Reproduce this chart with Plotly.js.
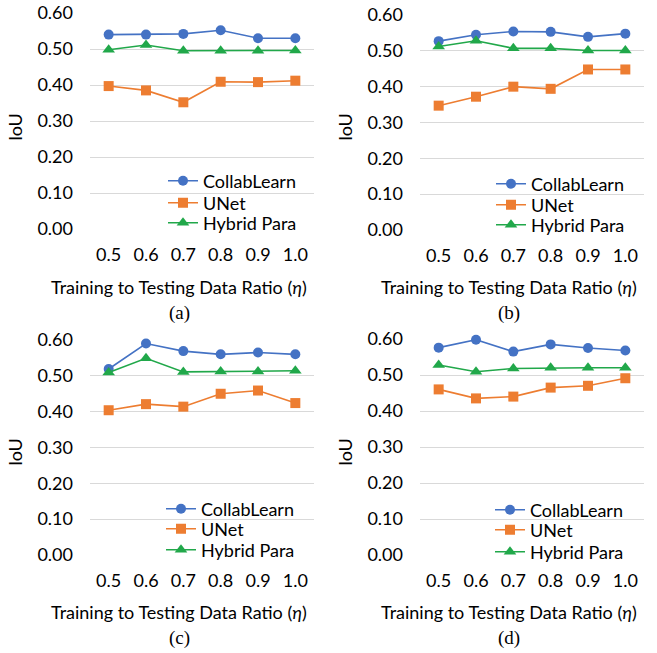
<!DOCTYPE html>
<html>
<head>
<meta charset="utf-8">
<script src="https://cdn.plot.ly/plotly-3.0.1.min.js"></script>
<style>html,body{margin:0;padding:0;background:#fff;}#chart{width:657px;height:653px;}</style>
</head>
<body>
<div id="chart"></div>
<script>
// ---- data ----
const ratios = [0.5, 0.6, 0.7, 0.8, 0.9, 1.0];
const tickLabels = ['0.5', '0.6', '0.7', '0.8', '0.9', '1.0'];
const seriesNames = ['CollabLearn', 'UNet', 'Hybrid Para'];
const panelLabels = ['(a)', '(b)', '(c)', '(d)'];

const collabA = [0.540, 0.540, 0.542, 0.552, 0.530, 0.530];
const unetA   = [0.397, 0.385, 0.352, 0.409, 0.408, 0.412];
const hybridA = [0.498, 0.511, 0.495, 0.495, 0.495, 0.496];

const collabB = [0.527, 0.545, 0.554, 0.553, 0.539, 0.548];
const unetB   = [0.347, 0.372, 0.400, 0.394, 0.448, 0.448];
const hybridB = [0.512, 0.528, 0.507, 0.507, 0.501, 0.501];

const collabC = [0.519, 0.590, 0.569, 0.560, 0.565, 0.560];
const unetC   = [0.404, 0.421, 0.414, 0.450, 0.459, 0.424];
const hybridC = [0.509, 0.549, 0.511, 0.512, 0.512, 0.514];

const collabD = [0.576, 0.598, 0.565, 0.585, 0.575, 0.568];
const unetD   = [0.460, 0.435, 0.440, 0.465, 0.470, 0.491];
const hybridD = [0.528, 0.509, 0.518, 0.520, 0.520, 0.520];

// ---- styling ----
const colors = ['#4472C4', '#ED7D31', '#21A84A'];
const symbols = ['circle', 'square', 'triangle-up'];
const msizes = [10, 10, 11];
const FONT = 'Lato, "Noto Sans", sans-serif';
const FS = 18;
const W = 657, H = 653;

const panels = [
  {data: [collabA, unetA, hybridA], xd: [90, 314], yd: [13, 229], dx: 0,   dy: 0,   legX: 163, legY: [180, 202, 222]},
  {data: [collabB, unetB, hybridB], xd: [420, 644], yd: [15, 230], dx: 330, dy: 0,   legX: 491, legY: [183, 204, 224]},
  {data: [collabC, unetC, hybridC], xd: [90, 314], yd: [340, 555], dx: 0,   dy: 325, legX: 161, legY: [508, 528, 549]},
  {data: [collabD, unetD, hybridD], xd: [420, 644], yd: [339, 555], dx: 330, dy: 325, legX: 490, legY: [509, 529, 551]}
];

const traces = [];
const layout = {
  width: W, height: H,
  margin: {l: 0, r: 0, t: 0, b: 0},
  paper_bgcolor: '#fff', plot_bgcolor: '#fff',
  font: {family: FONT, size: FS, color: '#000'},
  showlegend: true,
  annotations: []
};

let legN = 0;
panels.forEach((p, i) => {
  const k = i === 0 ? '' : String(i + 1);
  p.data.forEach((ys, s) => {
    legN += 1;
    const legKey = legN === 1 ? 'legend' : 'legend' + legN;
    traces.push({
      x: ratios, y: ys, type: 'scatter', mode: 'lines+markers',
      name: seriesNames[s],
      xaxis: 'x' + k, yaxis: 'y' + k,
      legend: legKey,
      cliponaxis: false,
      line: {color: colors[s], width: 1.6},
      marker: {symbol: symbols[s], size: msizes[s], color: colors[s]}
    });
    layout[legKey] = {
      x: p.legX / W, y: 1 - (p.legY[s] - 17.5) / H,
      xanchor: 'left', yanchor: 'top',
      bgcolor: 'rgba(0,0,0,0)', borderwidth: 0,
      font: {family: FONT, size: FS, color: '#000'},
      itemwidth: 30
    };
  });
  layout['xaxis' + k] = {
    domain: [p.xd[0] / W, p.xd[1] / W],
    anchor: 'y' + k,
    range: [0.45, 1.05],
    tickvals: ratios, ticktext: tickLabels,
    showgrid: false, zeroline: false, showline: false, ticks: '',
    ticklabelstandoff: 13,
    tickfont: {family: FONT, size: FS, color: '#000'}
  };
  layout['yaxis' + k] = {
    domain: [1 - p.yd[1] / H, 1 - p.yd[0] / H],
    anchor: 'x' + k,
    range: [0, 0.6], dtick: 0.1, tick0: 0, tickformat: '.2f',
    showgrid: true, gridcolor: '#D9D9D9', gridwidth: 1,
    zeroline: false, showline: false, ticks: '',
    ticklabelstandoff: 16,
    tickfont: {family: FONT, size: FS, color: '#000'}
  };
  layout.annotations.push({
    xref: 'paper', yref: 'paper', x: (p.dx + 179) / W, y: 1 - (p.dy + 287) / H,
    xanchor: 'center', yanchor: 'middle', showarrow: false,
    text: 'Training to Testing Data Ratio (<i>η</i>)',
    font: {family: FONT, size: FS, color: '#000'}
  });
  layout.annotations.push({
    xref: 'paper', yref: 'paper', x: (p.dx + 15) / W, y: 1 - (p.dy + 127) / H,
    xanchor: 'center', yanchor: 'middle', showarrow: false, textangle: -90,
    text: 'IoU',
    font: {family: FONT, size: FS, color: '#000'}
  });
  layout.annotations.push({
    xref: 'paper', yref: 'paper', x: (p.dx + 179) / W, y: 1 - (p.dy + 313) / H,
    xanchor: 'center', yanchor: 'middle', showarrow: false,
    text: panelLabels[i],
    font: {family: '"Liberation Serif", "DejaVu Serif", serif', size: 19, color: '#000'}
  });
});

Plotly.newPlot('chart', traces, layout, {staticPlot: true, displayModeBar: false});
</script>
</body>
</html>
